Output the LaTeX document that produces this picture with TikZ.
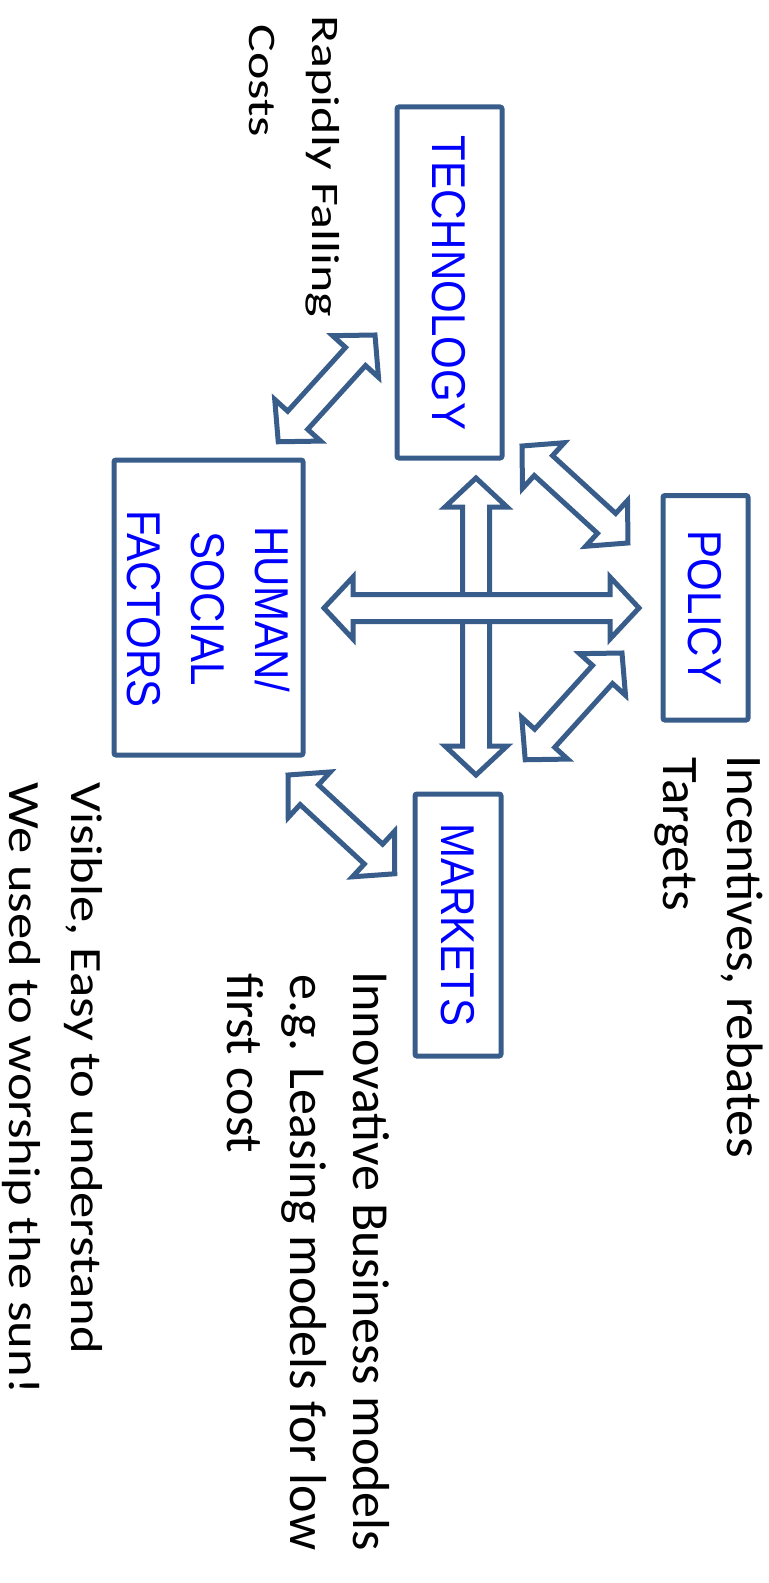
\documentclass[tikz,border=0pt]{standalone}
\usepackage{fontspec}
\setmainfont{Carlito}
\newfontfamily\arialfont{Liberation Sans}
\usepackage{graphicx}
\definecolor{boxblue}{HTML}{385D8A}
\definecolor{labelblue}{HTML}{0000FF}
\makeatletter
\newcommand{\dblarrow}[2]{%
  \pgfmathanglebetweenpoints{\pgfpointanchor{#1}{center}}{\pgfpointanchor{#2}{center}}%
  \let\arAng\pgfmathresult
  \pgfpointdiff{\pgfpointanchor{#1}{center}}{\pgfpointanchor{#2}{center}}%
  \pgfmathveclen{\the\pgf@x}{\the\pgf@y}%
  \let\arLen\pgfmathresult
  \draw[blockarrow, shift={(#1)}, rotate=\arAng]
    (0pt,0pt) -- (14.5pt,15.5pt) -- (14.5pt,6.75pt) -- (\arLen pt-14.5pt,6.75pt)
    -- (\arLen pt-14.5pt,15.5pt) -- (\arLen pt,0pt) -- (\arLen pt-14.5pt,-15.5pt)
    -- (\arLen pt-14.5pt,-6.75pt) -- (14.5pt,-6.75pt) -- (14.5pt,-15.5pt) -- cycle;
}
\makeatother
\tikzset{
  boxst/.style={draw=boxblue, line width=2.5pt, rounded corners=1pt, inner sep=0pt},
  blockarrow/.style={draw=boxblue, fill=white, line width=2.5pt, line join=miter},
  lbl/.style={inner sep=0pt, rotate=-90, anchor=base west, text=black},
  blbl/.style={inner sep=0pt, rotate=-90, anchor=base, text=labelblue, font=\arialfont\fontsize{21pt}{25pt}\selectfont},
}
\newcommand{\bl}[1]{\scalebox{1}[1.13]{#1}}
\begin{document}
\begin{tikzpicture}[x=0.5pt,y=0.5pt]
\useasboundingbox (0,0) rectangle (768,-1583);
% boxes
\node[boxst, minimum width=52.5pt, minimum height=175.5pt] (tech) at (449.5,-282.5) {};
\node[boxst, minimum width=42.5pt, minimum height=112.25pt] (policy) at (705.5,-607.75) {};
\node[boxst, minimum width=94.5pt, minimum height=147.5pt] (human) at (208.5,-607.5) {};
\node[boxst, minimum width=43pt, minimum height=131pt] (markets) at (458,-925) {};
% box labels
\node[blbl] (techl) at (432.5,-283) {\bl{TECHNOLOGY}};
\node[blbl] (policyl) at (688.5,-608) {\bl{POLICY}};
\node[blbl] (marketsl) at (441,-925) {\bl{MARKETS}};
\node[blbl] (human1) at (255,-609) {\bl{HUMAN/}};
\node[blbl] (human2) at (191.5,-609) {\bl{SOCIAL}};
\node[blbl] (human3) at (127.7,-609) {\bl{FACTORS}};
% arrow end points
\coordinate (v1) at (476,-478);
\coordinate (v2) at (476,-775);
\coordinate (h1) at (324,-608);
\coordinate (h2) at (639,-608);
\coordinate (th1) at (375,-335);
\coordinate (th2) at (278,-442);
\coordinate (tp1) at (522,-446);
\coordinate (tp2) at (628,-543);
\coordinate (pm1) at (622,-653);
\coordinate (pm2) at (525,-760);
\coordinate (hm1) at (288,-775);
\coordinate (hm2) at (395,-874);
\dblarrow{v1}{v2}
\dblarrow{h1}{h2}
\dblarrow{th1}{th2}
\dblarrow{tp1}{tp2}
\dblarrow{pm1}{pm2}
\dblarrow{hm1}{hm2}
% annotations
\node[lbl, font=\fontsize{26pt}{30pt}\selectfont] (rf1) at (312,-15) {\scalebox{1}[0.75]{Rapidly Falling}};
\node[lbl, font=\fontsize{26pt}{30pt}\selectfont] (rf2) at (249,-24) {\scalebox{1}[0.75]{Costs}};
\node[lbl, font=\fontsize{26.4pt}{30pt}\selectfont] (in1) at (727,-755) {\scalebox{1}[0.97]{Incentives, rebates}};
\node[lbl, font=\fontsize{26.4pt}{30pt}\selectfont] (in2) at (663,-757) {\scalebox{1}[0.97]{Targets}};
\node[lbl, font=\fontsize{26pt}{30pt}\selectfont] (ib1) at (353,-971) {Innovative Business models};
\node[lbl, font=\fontsize{26pt}{30pt}\selectfont] (ib2) at (290,-974) {e.g. Leasing models for low};
\node[lbl, font=\fontsize{26pt}{30pt}\selectfont] (ib3) at (227,-973) {first cost};
\node[lbl, font=\fontsize{26.3pt}{30pt}\selectfont] (vs1) at (71,-782) {\scalebox{1}[0.85]{Visible, Easy to understand}};
\node[lbl, font=\fontsize{26.3pt}{30pt}\selectfont] (vs2) at (10,-782) {\scalebox{1}[0.85]{We used to worship the sun!}};
\end{tikzpicture}
\end{document}
